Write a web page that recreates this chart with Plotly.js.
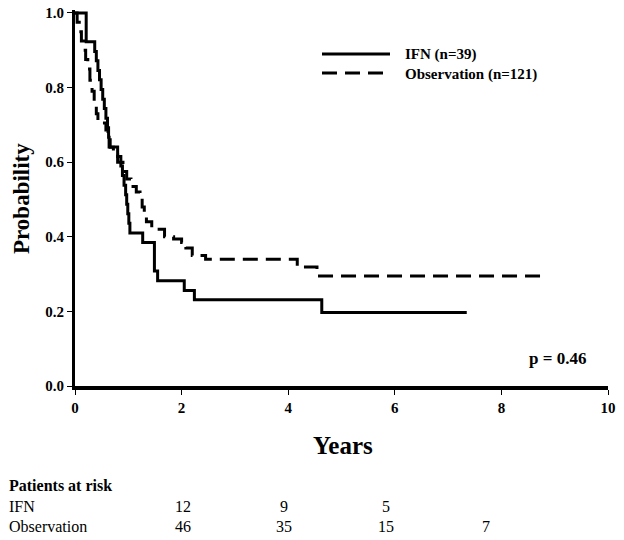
<!DOCTYPE html>
<html>
<head>
<meta charset="utf-8">
<script src="https://cdn.plot.ly/plotly-3.0.1.min.js"></script>
<style>html,body{margin:0;padding:0;background:#fff;}#chart{width:624px;height:540px;}</style>
</head>
<body>
<div id="chart"></div>
<script>
// ---- Data ----
const ifnTimes = [0, 0.21, 0.37, 0.40, 0.43, 0.46, 0.49, 0.52, 0.55, 0.58, 0.61, 0.63, 0.64, 0.80, 0.86, 0.89, 0.92, 0.95, 0.97, 0.99, 1.01, 1.03, 1.27, 1.49, 1.55, 2.05, 2.24, 4.63, 7.35];
const ifnSurv  = [1.0, 0.923, 0.897, 0.872, 0.846, 0.821, 0.795, 0.769, 0.744, 0.718, 0.692, 0.667, 0.641, 0.615, 0.590, 0.564, 0.538, 0.513, 0.487, 0.462, 0.436, 0.410, 0.385, 0.308, 0.282, 0.256, 0.231, 0.197, 0.197];

const obsTimes = [0, 0.04, 0.08, 0.12, 0.16, 0.20, 0.24, 0.28, 0.32, 0.36, 0.40, 0.43, 0.58, 0.62, 0.66, 0.72, 0.80, 0.90, 0.97, 1.05, 1.15, 1.22, 1.26, 1.30, 1.34, 1.44, 1.68, 1.85, 2.00, 2.08, 2.20, 2.45, 4.17, 4.54, 8.73];
const obsSurv  = [1.0, 0.975, 0.95, 0.925, 0.90, 0.875, 0.85, 0.82, 0.79, 0.76, 0.73, 0.705, 0.686, 0.66, 0.64, 0.62, 0.60, 0.575, 0.555, 0.535, 0.52, 0.505, 0.48, 0.455, 0.44, 0.42, 0.40, 0.394, 0.385, 0.37, 0.35, 0.34, 0.319, 0.295, 0.295];

const seriesNames = ["IFN (n=39)", "Observation (n=121)"];
const riskRowLabels = ["IFN", "Observation"];
const riskIFN = ["12", "9", "5"];
const riskObs = ["46", "35", "15", "7"];
const pValueText = "p = 0.46";

// ---- Layout helpers (pixel -> paper) ----
const W = 624, H = 540;
const M = {l: 75, r: 16, t: 10, b: 154};
const PW = W - M.l - M.r, PH = H - M.t - M.b;
const px = x => (x - M.l) / PW;
const py = y => (H - M.b - y) / PH;

const FONT = "Liberation Serif, Times New Roman, serif";
const dashPat = "15px,8px";

const traces = [
  {x: ifnTimes, y: ifnSurv, mode: "lines", line: {shape: "hv", color: "#000", width: 3}, name: seriesNames[0], showlegend: false, hoverinfo: "skip"},
  {x: obsTimes, y: obsSurv, mode: "lines", line: {shape: "hv", color: "#000", width: 3, dash: dashPat}, name: seriesNames[1], showlegend: false, hoverinfo: "skip"}
];

const riskX = [183, 284, 386, 486];
const annotations = [
  {text: "Probability", textangle: -90, xref: "paper", yref: "paper", x: px(21), y: py(199), showarrow: false, xanchor: "center", yanchor: "middle", font: {family: FONT, size: 23, weight: 700, color: "#000"}},
  {text: "Years", xref: "paper", yref: "paper", x: px(343), y: py(445), showarrow: false, xanchor: "center", yanchor: "middle", font: {family: FONT, size: 25, weight: 700, color: "#000"}},
  {text: pValueText, xref: "paper", yref: "paper", x: px(557), y: py(358), showarrow: false, xanchor: "center", yanchor: "middle", font: {family: FONT, size: 17, weight: 700, color: "#000"}},
  {text: seriesNames[0], xref: "paper", yref: "paper", x: px(403), y: py(55), showarrow: false, xanchor: "left", yanchor: "middle", font: {family: FONT, size: 15, weight: 700, color: "#000"}},
  {text: seriesNames[1], xref: "paper", yref: "paper", x: px(403), y: py(74), showarrow: false, xanchor: "left", yanchor: "middle", font: {family: FONT, size: 15, weight: 700, color: "#000"}},
  {text: "Patients at risk", xref: "paper", yref: "paper", x: px(7), y: py(485), showarrow: false, xanchor: "left", yanchor: "middle", font: {family: FONT, size: 16, weight: 700, color: "#000"}},
  {text: riskRowLabels[0], xref: "paper", yref: "paper", x: px(7), y: py(507), showarrow: false, xanchor: "left", yanchor: "middle", font: {family: FONT, size: 16, color: "#000"}},
  {text: riskRowLabels[1], xref: "paper", yref: "paper", x: px(7), y: py(526), showarrow: false, xanchor: "left", yanchor: "middle", font: {family: FONT, size: 16, color: "#000"}}
];
riskIFN.forEach((v, i) => annotations.push({text: v, xref: "paper", yref: "paper", x: px(riskX[i]), y: py(507), showarrow: false, xanchor: "center", yanchor: "middle", font: {family: FONT, size: 16, color: "#000"}}));
riskObs.forEach((v, i) => annotations.push({text: v, xref: "paper", yref: "paper", x: px(riskX[i]), y: py(526), showarrow: false, xanchor: "center", yanchor: "middle", font: {family: FONT, size: 16, color: "#000"}}));

const shapes = [
  {type: "line", xref: "paper", yref: "paper", x0: px(322), x1: px(390), y0: py(54), y1: py(54), line: {color: "#000", width: 3}},
  {type: "line", xref: "paper", yref: "paper", x0: px(322), x1: px(390), y0: py(73), y1: py(73), line: {color: "#000", width: 3, dash: dashPat}}
];

const layout = {
  width: W, height: H,
  margin: M,
  paper_bgcolor: "#fff", plot_bgcolor: "#fff",
  showlegend: false,
  xaxis: {
    range: [0, 10], tickvals: [0, 2, 4, 6, 8, 10], ticktext: ["0", "2", "4", "6", "8", "10"],
    showgrid: false, zeroline: false, showline: true, linecolor: "#000", linewidth: 4,
    ticks: "outside", ticklen: 5, tickwidth: 1, tickcolor: "#000",
    tickfont: {family: FONT, size: 15, weight: 700, color: "#000"}
  },
  yaxis: {
    range: [0, 1.008], tickvals: [0, 0.2, 0.4, 0.6, 0.8, 1.0], ticktext: ["0.0", "0.2", "0.4", "0.6", "0.8", "1.0"],
    showgrid: false, zeroline: false, showline: true, linecolor: "#000", linewidth: 3,
    ticks: "outside", ticklen: 5, tickwidth: 1, tickcolor: "#000",
    tickfont: {family: FONT, size: 15, weight: 700, color: "#000"}
  },
  annotations: annotations,
  shapes: shapes
};

Plotly.newPlot("chart", traces, layout, {displayModeBar: false, staticPlot: true});
</script>
</body>
</html>
